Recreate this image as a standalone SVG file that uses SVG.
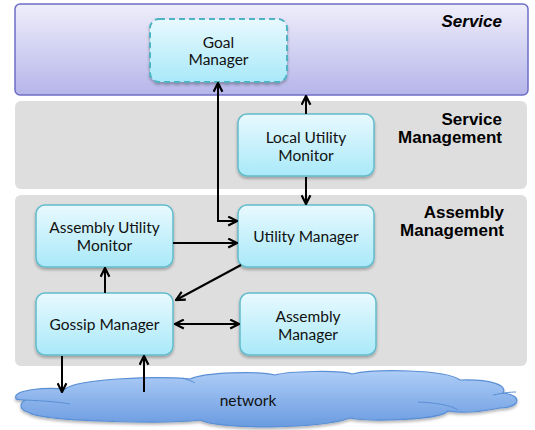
<svg xmlns="http://www.w3.org/2000/svg" width="535" height="430" viewBox="0 0 535 430">
  <defs>
    <linearGradient id="svcFill" x1="0" y1="0" x2="0" y2="1">
      <stop offset="0" stop-color="#efeefa"/>
      <stop offset="1" stop-color="#b5b5ea"/>
    </linearGradient>
    <linearGradient id="nodeFill" x1="0" y1="0" x2="0" y2="1">
      <stop offset="0" stop-color="#e8f9fe"/>
      <stop offset="1" stop-color="#a9e9f9"/>
    </linearGradient>
    <linearGradient id="cloudFill" x1="0" y1="0" x2="0" y2="1">
      <stop offset="0" stop-color="#aecdf7"/>
      <stop offset="1" stop-color="#6a9be0"/>
    </linearGradient>
    <filter id="shadow" x="-10%" y="-10%" width="125%" height="130%">
      <feGaussianBlur in="SourceAlpha" stdDeviation="1.5"/>
      <feOffset dx="0" dy="2" result="b"/>
      <feComponentTransfer><feFuncA type="linear" slope="0.3"/></feComponentTransfer>
      <feMerge><feMergeNode/><feMergeNode in="SourceGraphic"/></feMerge>
    </filter>
    <marker id="arrow" viewBox="0 0 10 10" refX="9" refY="5" markerWidth="11" markerHeight="11" markerUnits="userSpaceOnUse" orient="auto-start-reverse">
      <path d="M1,1 L9,5 L1,9" fill="none" stroke="#000" stroke-width="2"/>
    </marker>
  </defs>
  <style>
    .band { fill: #dedede; }
    .node rect { fill: url(#nodeFill); stroke: #62bccb; stroke-width: 1.5; filter: url(#shadow); }
    .node text { font-family: Lato, "Open Sans", sans-serif; font-size: 15.5px; fill: #111; text-anchor: middle; }
    .layer { font-family: "Liberation Sans", Arial, sans-serif; font-size: 17px; font-weight: bold; fill: #000; text-anchor: end; }
    .conn { fill: none; stroke: #000; stroke-width: 2; }
  </style>

  <!-- layers -->
  <g id="service-layer">
    <rect x="15" y="4" width="513" height="91" rx="5" fill="url(#svcFill)" stroke="#6d6dc6" stroke-width="1.5"/>
    <text class="layer" x="502" y="27" font-style="italic">Service</text>
  </g>
  <g id="service-management-layer">
    <rect class="band" x="15" y="101" width="512" height="88" rx="6"/>
    <text class="layer" x="502" y="125">Service</text>
    <text class="layer" x="502" y="143">Management</text>
  </g>
  <g id="assembly-management-layer">
    <rect class="band" x="15" y="195" width="512" height="171" rx="6"/>
    <text class="layer" x="504" y="218">Assembly</text>
    <text class="layer" x="504" y="236">Management</text>
  </g>

  <!-- network cloud -->
  <g id="network">
    <path d="M16 398 C12 390 45 387 65 389 C80 378 160 376 190 379 C205 372 260 371 275 375 C290 371 340 370 352 374 C375 369 445 369 460 380 C490 379 508 385 503 393 C522 395 522 407 500 408 C480 412 460 413 448 411 C440 420 370 422 350 418 C320 429 220 430 200 420 C170 424 40 422 28 412 C18 409 20 402 26 400 C18 400 15 399 16 398 Z" fill="url(#cloudFill)" stroke="#5a8fd5" stroke-width="1.2" filter="url(#shadow)"/>
    <path d="M26 400 C45 401 60 402 70 404 M418 402 C440 403 452 406 458 410 M493 395 C503 393 510 392 516 392 M183 378 C188 380 192 381 195 383" fill="none" stroke="#5a8fd5" stroke-width="1"/>
    <text x="248" y="406" font-family="Lato, 'Open Sans', sans-serif" font-size="15.5" text-anchor="middle" fill="#111">network</text>
  </g>

  <!-- nodes -->
  <g id="goal-manager" class="node">
    <rect x="150" y="19" width="137" height="63" rx="9" stroke-dasharray="6 4" style="stroke:#4fb3c4;stroke-width:2"/>
    <text x="218.5" y="48">Goal</text>
    <text x="218.5" y="65">Manager</text>
  </g>
  <g id="local-utility-monitor" class="node">
    <rect x="238" y="114" width="136" height="62" rx="9"/>
    <text x="306" y="143">Local Utility</text>
    <text x="306" y="161">Monitor</text>
  </g>
  <g id="assembly-utility-monitor" class="node">
    <rect x="36" y="205" width="137" height="62" rx="9"/>
    <text x="104.5" y="233">Assembly Utility</text>
    <text x="104.5" y="251">Monitor</text>
  </g>
  <g id="utility-manager" class="node">
    <rect x="238" y="205" width="136" height="62" rx="9"/>
    <text x="306" y="242">Utility Manager</text>
  </g>
  <g id="gossip-manager" class="node">
    <rect x="36" y="293" width="137" height="62" rx="9"/>
    <text x="104.5" y="330">Gossip Manager</text>
  </g>
  <g id="assembly-manager" class="node">
    <rect x="240" y="293" width="136" height="62" rx="9"/>
    <text x="308" y="322">Assembly</text>
    <text x="308" y="340">Manager</text>
  </g>

  <!-- connectors -->
  <g id="connectors">
    <path class="conn" d="M218 222 L218 83" marker-end="url(#arrow)"/>
    <path class="conn" d="M218 221 L237 221" marker-end="url(#arrow)"/>
    <path class="conn" d="M306 114 L306 96" marker-end="url(#arrow)"/>
    <path class="conn" d="M306 177 L306 204" marker-end="url(#arrow)"/>
    <path class="conn" d="M173 243 L237 243" marker-end="url(#arrow)"/>
    <path class="conn" d="M241 265 L176 300" marker-end="url(#arrow)"/>
    <path class="conn" d="M105 293 L105 268" marker-end="url(#arrow)"/>
    <path class="conn" d="M175 324 L239 324" marker-start="url(#arrow)" marker-end="url(#arrow)"/>
    <path class="conn" d="M62 356 L62 392" marker-end="url(#arrow)"/>
    <path class="conn" d="M144 392 L144 356" marker-end="url(#arrow)"/>
  </g>
</svg>
